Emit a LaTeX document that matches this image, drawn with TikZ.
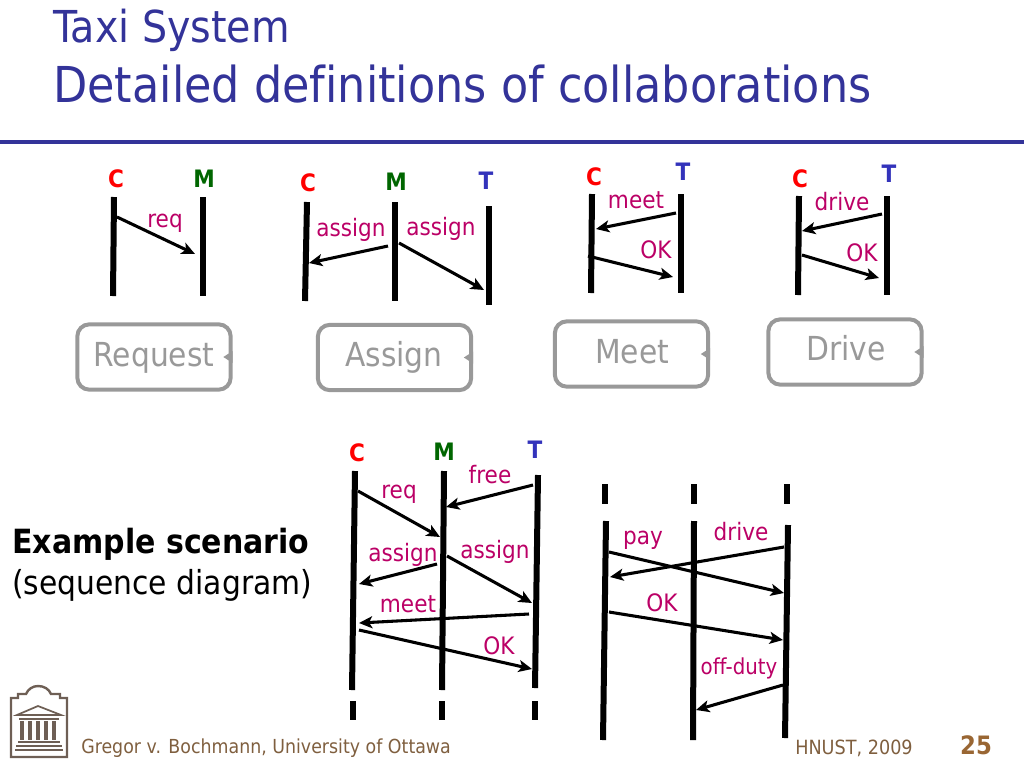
\documentclass[tikz,border=0pt]{standalone}
\usepackage{fontspec}
\setmainfont{DejaVu Sans}[FakeStretch=0.9,Ligatures=NoCommon]
\usetikzlibrary{arrows.meta, positioning}
\definecolor{titleblue}{HTML}{333399}
\definecolor{partblue}{HTML}{3333BB}
\definecolor{partgreen}{HTML}{006600}
\definecolor{msgred}{HTML}{BB0066}
\definecolor{boxgray}{HTML}{999999}
\definecolor{footbrown}{HTML}{7F5F3F}
\definecolor{pagebrown}{HTML}{996633}
\definecolor{logobrown}{HTML}{6E5F55}
\tikzset{
  lifeline/.style={line width=4.5pt},
  msg/.style={line width=2.3pt, -{Stealth[length=10pt,width=9pt,inset=2.5pt]}},
  msglabel/.style={anchor=base, font=\fontsize{18}{20}\selectfont, text=msgred, inner sep=0pt},
  partC/.style={anchor=base, font=\fontsize{18}{20}\selectfont\bfseries, text=red, inner sep=0pt},
  partM/.style={anchor=base, font=\fontsize{18}{20}\selectfont\bfseries, text=partgreen, inner sep=0pt},
  partT/.style={anchor=base, font=\fontsize{18}{20}\selectfont\bfseries, text=partblue, inner sep=0pt},
  rolebox/.style={draw=boxgray, line width=3pt, rounded corners=9pt, minimum width=115pt, minimum height=49pt},
  roletext/.style={anchor=base, inner sep=0pt, text=boxgray, font=\fontsize{24.8}{28}\selectfont},
}
\begin{document}
\begin{tikzpicture}[x=0.75pt, y=-0.75pt]
\useasboundingbox (0,0) rectangle (1024,768);
% Title
\node[anchor=base west, inner sep=0pt, text=titleblue, font=\fontsize{33}{38}\selectfont] (title1) at (53,42) {Taxi System};
\node[anchor=base west, inner sep=0pt, text=titleblue, font=\fontsize{37.1}{44}\selectfont] (title2) at (53,102) {Detailed definitions of collaborations};
\coordinate (ruleL) at (0,142);
\coordinate (ruleR) at (1024,142);
\draw[titleblue, line width=3pt] (ruleL) -- (ruleR);

% Request
\node[partC] (c1) at (116,187) {C};
\node[partM] (m1) at (204,187) {M};
\coordinate (c1a) at (114,197); \coordinate (c1b) at (113,296);
\coordinate (m1a) at (203,197); \coordinate (m1b) at (203,296);
\draw[lifeline] (c1a) -- (c1b);
\draw[lifeline] (m1a) -- (m1b);
\coordinate (r1a) at (117,217); \coordinate (r1b) at (195,254);
\draw[msg] (r1a) -- (r1b);
\node[msglabel] (req1) at (165,227) {req};
\node[rolebox] (request) at (154,357) {};
\node[roletext] (requesttext) at (154,366) {Request};

% Assign
\node[partC] (c2) at (308,191) {C};
\node[partM] (m2) at (396,190) {M};
\node[partT] (t2) at (486,189) {T};
\coordinate (c2a) at (307,202); \coordinate (c2b) at (305,301);
\coordinate (m2a) at (395,202); \coordinate (m2b) at (395,301);
\coordinate (t2a) at (489,206); \coordinate (t2b) at (489,305);
\draw[lifeline] (c2a) -- (c2b);
\draw[lifeline] (m2a) -- (m2b);
\draw[lifeline] (t2a) -- (t2b);
\coordinate (a2a) at (388,246); \coordinate (a2b) at (309,263);
\coordinate (a3a) at (399,243); \coordinate (a3b) at (484,290);
\draw[msg] (a2a) -- (a2b);
\draw[msg] (a3a) -- (a3b);
\node[msglabel] (assign1) at (351,236) {assign};
\node[msglabel] (assign2) at (441,235) {assign};
\node[rolebox] (assign) at (394.5,357.5) {};
\node[roletext] (assigntext) at (394,366) {Assign};

% Meet
\node[partC] (c3) at (594,185) {C};
\node[partT] (t3) at (683,180) {T};
\coordinate (c3a) at (592,194); \coordinate (c3b) at (591,293);
\coordinate (t3a) at (681,194); \coordinate (t3b) at (681,293);
\draw[lifeline] (c3a) -- (c3b);
\draw[lifeline] (t3a) -- (t3b);
\coordinate (e3a) at (676,213); \coordinate (e3b) at (596,229);
\coordinate (k3a) at (588,256); \coordinate (k3b) at (673,277);
\draw[msg] (e3a) -- (e3b);
\draw[msg] (k3a) -- (k3b);
\node[msglabel] (meet1) at (636,208) {meet};
\node[msglabel] (ok1) at (656,258) {OK};
\node[rolebox] (meet) at (631.5,354) {};
\node[roletext] (meettext) at (632,363) {Meet};

% Drive
\node[partC] (c4) at (800,187) {C};
\node[partT] (t4) at (889,182) {T};
\coordinate (c4a) at (799,196); \coordinate (c4b) at (798,295);
\coordinate (t4a) at (887,196); \coordinate (t4b) at (887,295);
\draw[lifeline] (c4a) -- (c4b);
\draw[lifeline] (t4a) -- (t4b);
\coordinate (d4a) at (882,214); \coordinate (d4b) at (802,231);
\coordinate (k4a) at (802,255); \coordinate (k4b) at (879,278);
\draw[msg] (d4a) -- (d4b);
\draw[msg] (k4a) -- (k4b);
\node[msglabel] (drive1) at (842,210) {drive};
\node[msglabel] (ok2) at (862,261) {OK};
\node[rolebox] (drive) at (845,352) {};
\node[roletext] (drivetext) at (846,360) {Drive};

% Small tips on the boxes
\foreach \b in {request, assign, meet, drive}
  \fill[boxgray] ([xshift=-7pt]\b.east) -- ([yshift=4.5pt]\b.east) -- ([yshift=-4.5pt]\b.east) -- cycle;

% Example scenario
\node[anchor=base west, inner sep=0pt, font=\fontsize{25}{28}\selectfont\bfseries] (ex1) at (12,553) {Example scenario};
\node[anchor=base west, inner sep=0pt, font=\fontsize{24.8}{28}\selectfont] (ex2) at (12,594) {(sequence diagram)};

% First sequence
\node[partC] (c5) at (357,461) {C};
\node[partM] (m5) at (444,460) {M};
\node[partT] (t5) at (535,458) {T};
\coordinate (c5a) at (355,471); \coordinate (c5b) at (352,690);
\coordinate (m5a) at (444,471); \coordinate (m5b) at (442,690);
\coordinate (t5a) at (538,475); \coordinate (t5b) at (535,688);
\draw[lifeline] (c5a) -- (c5b);
\draw[lifeline] (m5a) -- (m5b);
\draw[lifeline] (t5a) -- (t5b);
\foreach \x in {353,442,535}
  \draw[lifeline] (\x,701) -- (\x,720);
\coordinate (s1a) at (358,491); \coordinate (s1b) at (440,537);
\coordinate (s2a) at (533,485); \coordinate (s2b) at (446,507);
\coordinate (s3a) at (437,564); \coordinate (s3b) at (359,584);
\coordinate (s4a) at (447,556); \coordinate (s4b) at (532,603);
\coordinate (s5a) at (529,614); \coordinate (s5b) at (359,623);
\coordinate (s6a) at (359,630); \coordinate (s6b) at (532,669);
\draw[msg] (s1a) -- (s1b);
\draw[msg] (s2a) -- (s2b);
\draw[msg] (s3a) -- (s3b);
\draw[msg] (s4a) -- (s4b);
\draw[msg] (s5a) -- (s5b);
\draw[msg] (s6a) -- (s6b);
\node[msglabel] (req2) at (399,498) {req};
\node[msglabel] (free) at (490,483) {free};
\node[msglabel] (assign3) at (403,561) {assign};
\node[msglabel] (assign4) at (495,558) {assign};
\node[msglabel] (meet2) at (408,612) {meet};
\node[msglabel] (ok3) at (499,654) {OK};

% Second sequence
\foreach \x in {605,694,787}
  \draw[lifeline] (\x,484) -- (\x,504);
\coordinate (c6a) at (606,521); \coordinate (c6b) at (603,740);
\coordinate (m6a) at (694,521); \coordinate (m6b) at (693,740);
\coordinate (t6a) at (788,525); \coordinate (t6b) at (785,738);
\draw[lifeline] (c6a) -- (c6b);
\draw[lifeline] (m6a) -- (m6b);
\draw[lifeline] (t6a) -- (t6b);
\coordinate (p1a) at (609,552); \coordinate (p1b) at (784,593);
\coordinate (p2a) at (784,547); \coordinate (p2b) at (610,577);
\coordinate (p3a) at (609,612); \coordinate (p3b) at (783,640);
\coordinate (p4a) at (783,685); \coordinate (p4b) at (696,710);
\draw[msg] (p1a) -- (p1b);
\draw[msg] (p2a) -- (p2b);
\draw[msg] (p3a) -- (p3b);
\draw[msg] (p4a) -- (p4b);
\node[msglabel] (pay) at (643,544) {pay};
\node[msglabel] (drive2) at (741,540) {drive};
\node[msglabel] (ok4) at (662,611) {OK};
\node[msglabel, font=\fontsize{16.5}{18}\selectfont] (offduty) at (739,674) {off-duty};

% Logo
\draw[logobrown, line width=1.8pt] (11,757) -- (67,757) -- (67,698) -- (60,698) -- (60,694) -- (51,694)
  .. controls (49,689) and (44,686) .. (38,686) .. controls (33,686) and (28,689) .. (26,694)
  -- (18,694) -- (18,698) -- (11,698) -- cycle;
\draw[logobrown, line width=1.3pt] (17,715) -- (38,706) -- (61,715) -- cycle;
\draw[logobrown, line width=1.3pt] (19,719) -- (59,719);
\foreach \x in {22,30,38,46,54}
  \draw[logobrown, line width=2.6pt] (\x,721) -- (\x,740);
\foreach \y/\a/\b in {742/18/60, 746/16/62, 750/15/63}
  \draw[logobrown, line width=1pt] (\a,\y) -- (\b,\y);

% Footer
\node[anchor=base west, inner sep=0pt, text=footbrown, font=\fontsize{14.5}{17}\selectfont] (author) at (81,753) {Gregor v. Bochmann, University of Ottawa};
\node[anchor=base west, inner sep=0pt, text=footbrown, font=\fontsize{14.7}{16}\selectfont] (venue) at (795,754) {HNUST, 2009};
\node[anchor=base, inner sep=0pt, text=pagebrown, font=\fontsize{19}{22}\selectfont\bfseries] (page) at (976,754) {25};
\end{tikzpicture}
\end{document}
